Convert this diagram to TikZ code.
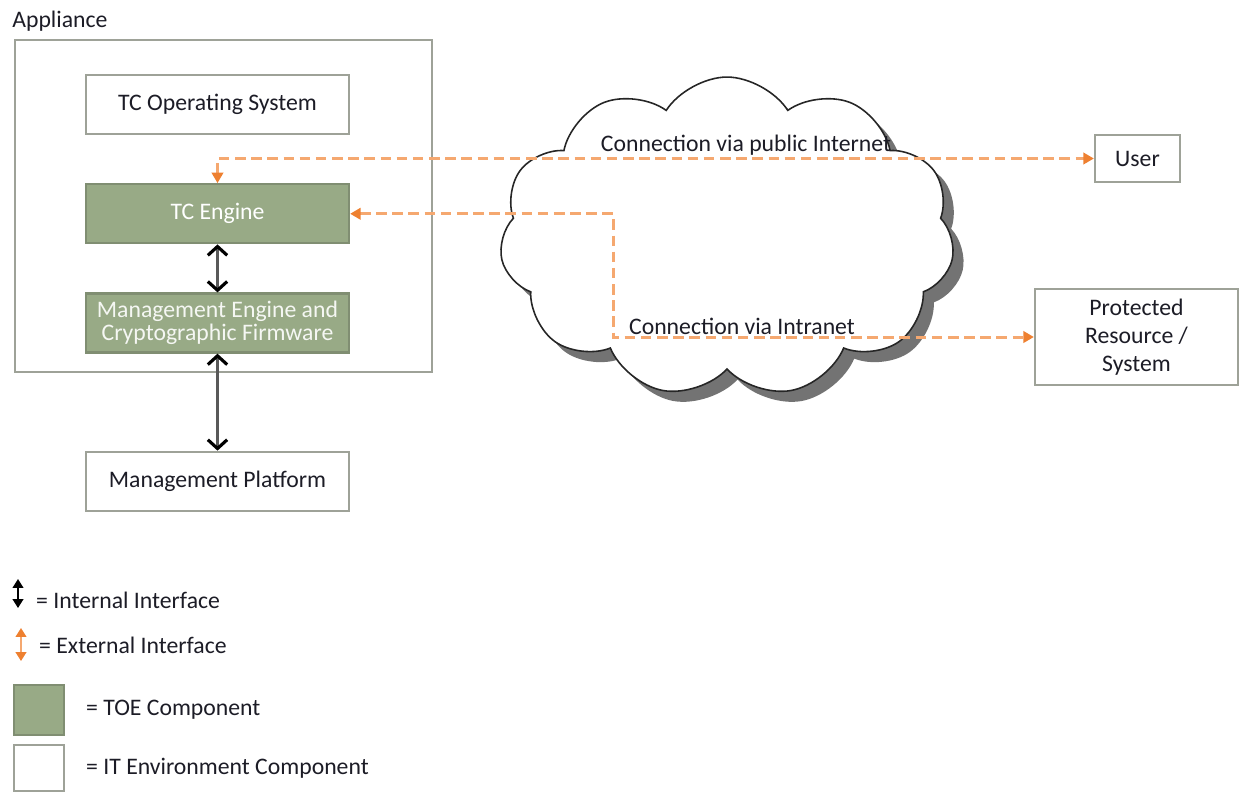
\documentclass[tikz,border=0pt]{standalone}
\usepackage{fontspec}
\setmainfont{Carlito}
\usepackage{tikz}
\usetikzlibrary{arrows.meta, positioning, shapes.symbols, shadows}
\definecolor{colorFrame}{RGB}{158,162,152}
\definecolor{colorToe}{RGB}{152,170,134}
\definecolor{colorToeLine}{RGB}{128,142,114}
\definecolor{colorExternal}{RGB}{245,168,112}
\definecolor{colorExtTip}{RGB}{238,128,48}
\definecolor{colorText}{RGB}{28,28,38}
\tikzset{
  envbox/.style={draw=colorFrame, line width=1.3pt, fill=white, text=colorText, minimum width=5.26cm, minimum height=1.18cm, align=center},
  toebox/.style={envbox, draw=colorToeLine, fill=colorToe, text=white},
  intif/.style={{Straight Barb[length=5pt,width=11pt,line width=1.8pt,color=black]}-{Straight Barb[length=5pt,width=11pt,line width=1.8pt,color=black]}, line width=1.4pt, draw=black!65},
  extif/.style={draw=colorExternal, line width=1.7pt, dash pattern=on 6pt off 3.2pt,
    {Triangle[length=6pt,width=6.5pt,color=colorExtTip,sep=0pt]}-{Triangle[length=6pt,width=6.5pt,color=colorExtTip]}},
  legtip/.style={{Triangle[length=5pt,width=6pt]}-{Triangle[length=5pt,width=6pt]}, line width=1pt}
}

\begin{document}
\begin{tikzpicture}[x=0.02cm, y=-0.02cm, node distance=0.96cm, font=\fontsize{13.5}{16}\selectfont, text=colorText]
\useasboundingbox (0,0) rectangle (1243,792);
% appliance frame
\node[draw=colorFrame, line width=1.3pt, minimum width=8.34cm, minimum height=6.64cm] (appl) at (223.5,206) {};
\node[anchor=base west, inner sep=0pt] (appl-label) at (12,27) {Appliance};
% components
\node[envbox] (os) at (217.5,104.5) {TC Operating System};
\node[toebox, below=of os] (tce) {TC Engine};
\node[toebox, below=of tce, text=white!90!colorToe] (me) {Management Engine and\\[-3pt]Cryptographic Firmware};
\node[envbox, below=1.94cm of me] (mp) {Management Platform};
\draw[intif] (tce) -- (me);
\draw[intif] (me) -- (mp);
% network cloud
\node[cloud, draw=black!85, line width=0.9pt, fill=white, cloud puffs=11, cloud puff arc=115,
      minimum width=9.1cm, minimum height=6.4cm,
      drop shadow={shadow xshift=6pt, shadow yshift=-6pt, fill=black!55, opacity=1}] (net) at (727,237) {};
\node[envbox, minimum width=1.7cm, minimum height=0.94cm] (user) at (1137.5,158.5) {User};
\node[envbox, minimum width=4.06cm, minimum height=1.92cm] (prot) at (1136.5,337) {Protected\\Resource /\\System};
% external interfaces
\coordinate (turn) at (613,0);
\draw[extif] (tce) |- (user);
\draw[extif] (tce.east) -- (tce.east -| turn) |- (prot.west);
\node (inet) at (746,145) {Connection via public Internet};
\node (intra) at (742,326) {Connection via Intranet};
% legend
\draw[legtip] (18,579) -- (18,608);
\node[anchor=west] (lint) at (30,600) {= Internal Interface};
\draw[{Triangle[length=5pt,width=6pt,color=colorExtTip]}-{Triangle[length=5pt,width=6pt,color=colorExtTip]}, line width=1pt, colorExternal] (21,628) -- (21,661);
\node[anchor=west] (lext) at (33,645) {= External Interface};
\node[toebox, minimum width=1cm, minimum height=1cm] (ltoe) at (39,710) {};
\node[anchor=west] (ltoe-text) at (80,710) {= TOE Component};
\node[envbox, minimum width=1cm, minimum height=0.92cm] (lenv) at (39,768) {};
\node[anchor=west] (lenv-text) at (80,768) {= IT Environment Component};
\end{tikzpicture}
\end{document}
